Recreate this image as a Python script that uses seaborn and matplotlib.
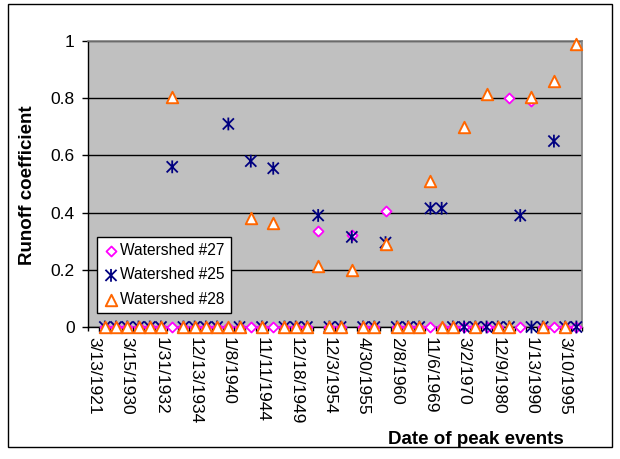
import numpy as np
import pandas as pd
import matplotlib
matplotlib.use("Agg")
import matplotlib.pyplot as plt
from matplotlib.path import Path
from matplotlib.patches import Rectangle
import seaborn as sns

nan = np.nan

# ---- data (44 peak events, only every third date is labelled on the axis) ----
tick_labels = ["3/13/1921", "3/15/1930", "1/31/1932", "12/13/1934", "1/8/1940",
               "11/11/1944", "12/18/1949", "12/3/1954", "4/30/1955", "2/8/1960",
               "11/6/1969", "3/2/1970", "12/9/1980", "1/13/1990", "3/10/1995"]

ws27 = [nan, 0, 0, 0, 0, 0, 0, 0, 0, 0, 0,
        0, 0, 0, 0, 0, 0, 0, 0, 0, 0.335,
        0, 0, 0.32, 0, 0, 0.405, 0, 0, 0, 0,
        0, 0, 0, 0, 0, 0, 0.80, 0, 0.79, 0,
        0, 0, 0]
ws25 = [nan, 0, 0, 0, 0, 0, 0, 0.56, 0, 0, 0,
        0, 0.71, 0, 0.58, 0, 0.555, 0, 0, 0, 0.39,
        0, 0, 0.315, 0, 0, 0.295, 0, 0, 0, 0.415,
        0.415, 0, 0, 0, 0, 0, 0, 0.39, 0, 0,
        0.65, 0, 0]
ws28 = [nan, 0, 0, 0, 0, 0, 0, 0.805, 0, 0, 0,
        0, 0, 0, 0.38, 0, 0.365, 0, 0, 0, 0.215,
        0, 0, 0.20, 0, 0, 0.29, 0, 0, 0, 0.51,
        0, 0, 0.70, 0, 0.815, 0, 0, nan, 0.805, 0,
        0.86, 0, 0.99]
series_names = ["Watershed #27", "Watershed #25", "Watershed #28"]

n = len(ws27)
event = np.arange(n)
df = pd.DataFrame({"event": event, "Watershed #27": ws27,
                   "Watershed #25": ws25, "Watershed #28": ws28})

plt.rcParams["font.family"] = ["Liberation Sans", "DejaVu Sans"]

W, H = 620, 459
fig = plt.figure(figsize=(W / 100, H / 100), dpi=100)
fig.patch.set_facecolor("white")
ax = fig.add_axes([88 / W, 1 - 327 / H, (582 - 88) / W, (327 - 41) / H])
ax.set_facecolor("#C0C0C0")

asterisk = Path([(-1, -1), (1, 1), (-1, 1), (1, -1), (0, -1.15), (0, 1.15)],
                [Path.MOVETO, Path.LINETO, Path.MOVETO, Path.LINETO,
                 Path.MOVETO, Path.LINETO])

sns.scatterplot(data=df, x="event", y="Watershed #27", ax=ax, marker="D", s=26,
                facecolor="white", edgecolor="#FF00FF", linewidth=1.3,
                label=series_names[0], clip_on=False, zorder=3)
sns.scatterplot(data=df, x="event", y="Watershed #25", ax=ax, marker=asterisk, s=85,
                facecolor="none", edgecolor="#000080", linewidth=1.3,
                label=series_names[1], clip_on=False, zorder=4)
sns.scatterplot(data=df, x="event", y="Watershed #28", ax=ax, marker="^", s=68,
                facecolor="white", edgecolor="#FF6600", linewidth=1.4,
                label=series_names[2], clip_on=False, zorder=5)

ax.set_xlim(-0.5, n - 0.5)
ax.set_ylim(0, 1)
ax.set_yticks([0, 0.2, 0.4, 0.6, 0.8, 1.0])
ax.set_yticklabels(["0", "0.2", "0.4", "0.6", "0.8", "1"], fontsize=12.5)
ax.yaxis.grid(True, color="black", linewidth=1.0)
ax.set_axisbelow(True)

ax.set_xticks(event[::3])
ax.set_xticklabels(tick_labels, rotation=-90, fontsize=12.5, va="top", ha="center")
ax.set_xticks(np.arange(-0.5, n, 1), minor=True)
ax.tick_params(axis="x", which="major", length=0, pad=7)
ax.tick_params(axis="x", which="minor", length=3, width=1, color="black", direction="out")
ax.tick_params(axis="y", length=4.5, width=1, pad=5, color="black")

for side in ["top", "right"]:
    ax.spines[side].set_color("#808080")
    ax.spines[side].set_linewidth(1.2)
for side in ["left", "bottom"]:
    ax.spines[side].set_color("black")
    ax.spines[side].set_linewidth(1.0)
ax.spines["bottom"].set_zorder(2)

ax.set_xlabel("")
ax.set_ylabel("")

leg = ax.legend(loc="lower left", bbox_to_anchor=(97 / W, 1 - 313 / H),
                bbox_transform=fig.transFigure, borderaxespad=0, fontsize=11.2,
                frameon=True, fancybox=False, edgecolor="black", framealpha=1,
                handletextpad=0.1, handlelength=1.0, labelspacing=0.6,
                borderpad=0.4, markerscale=1.0)
leg.get_frame().set_linewidth(1.0)
leg.set_zorder(10)

fig.text(28 / W, 1 - 185 / H, "Runoff coefficient", rotation=90, fontsize=13.5,
         fontweight="bold", ha="center", va="center")
fig.text(476 / W, 1 - 440 / H, "Date of peak events", fontsize=13.5,
         fontweight="bold", ha="center", va="center")

fig.patches.append(Rectangle((8 / W, 1 - 447 / H), (612 - 8) / W, (447 - 4) / H,
                             transform=fig.transFigure, fill=False,
                             edgecolor="black", linewidth=1.0))

fig.savefig("out.png", dpi=100)
